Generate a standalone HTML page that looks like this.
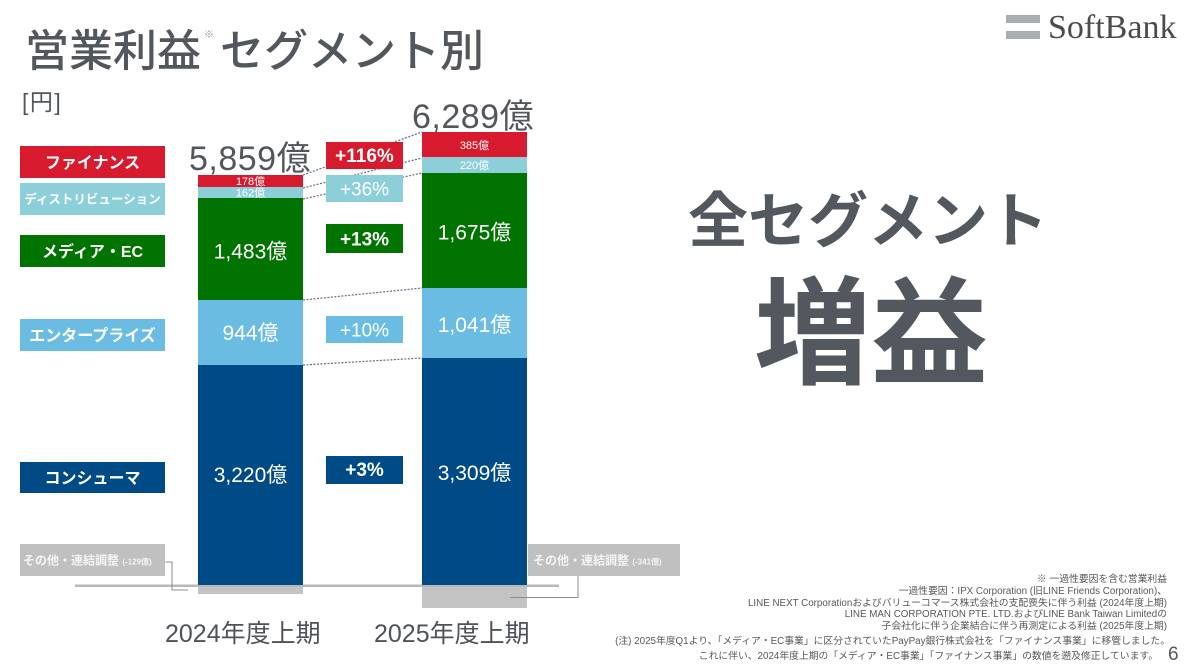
<!DOCTYPE html>
<html><head><meta charset="utf-8"><style>
html,body{margin:0;padding:0;background:#fff;}
svg{display:block;}
text{font-family:"Liberation Sans","Noto Sans CJK JP",sans-serif;}
</style></head><body>
<svg width="1200" height="669" viewBox="0 0 1200 669" xmlns="http://www.w3.org/2000/svg">
<rect width="1200" height="669" fill="#fff"/>
<!-- Title -->
<text x="25" y="66" font-size="44" font-weight="500" fill="#52575d">営業利益</text>
<text x="204" y="38" font-size="10" fill="#8a8e93">※</text>
<text x="220" y="66" font-size="44" font-weight="500" fill="#52575d">セグメント別</text>
<text x="22" y="110" font-size="23" letter-spacing="1.5" fill="#52575d">[円]</text>
<!-- Logo -->
<rect x="1006" y="15" width="34" height="8" fill="#a9adb1"/>
<rect x="1006" y="31" width="34" height="8" fill="#a9adb1"/>
<text x="1048" y="38" font-size="34" fill="#4b4b4b" style="font-family:'Liberation Serif',serif">SoftBank</text>

<!-- dotted connectors -->
<g stroke="#5d6f82" stroke-width="1.2" stroke-dasharray="2,1.5" fill="none">
<line x1="303" y1="175" x2="422" y2="132"/>
<line x1="303" y1="188" x2="422" y2="158"/>
<line x1="303" y1="199" x2="422" y2="173"/>
<line x1="303" y1="300" x2="422" y2="288"/>
<line x1="303" y1="365" x2="422" y2="358"/>
</g>

<!-- baseline -->
<rect x="75" y="584.5" width="484" height="2.5" fill="#b5b9be"/>

<!-- Bar 1 -->
<rect x="198" y="175" width="105" height="12" fill="#d71a2e"/>
<rect x="198" y="187" width="105" height="11" fill="#8ccfd8"/>
<rect x="198" y="198" width="105" height="102" fill="#007300"/>
<rect x="198" y="300" width="105" height="65" fill="#6bbce2"/>
<rect x="198" y="365" width="105" height="220" fill="#004b85"/>
<rect x="198" y="587" width="105" height="7" fill="#c3c3c3"/>

<!-- Bar 2 -->
<rect x="422" y="132" width="105" height="25" fill="#d71a2e"/>
<rect x="422" y="157" width="105" height="16" fill="#8ccfd8"/>
<rect x="422" y="173" width="105" height="115" fill="#007300"/>
<rect x="422" y="288" width="105" height="70" fill="#6bbce2"/>
<rect x="422" y="358" width="105" height="227" fill="#004b85"/>
<rect x="422" y="587" width="105" height="21" fill="#c3c3c3"/>

<!-- bar labels -->
<g fill="#fff" text-anchor="middle">
<text x="250.5" y="185" font-size="11">178億</text>
<text x="250.5" y="196.5" font-size="11">162億</text>
<text x="250.5" y="258.5" font-size="21">1,483億</text>
<text x="250.5" y="340" font-size="21">944億</text>
<text x="250.5" y="482" font-size="21">3,220億</text>
<text x="474.5" y="149" font-size="11">385億</text>
<text x="474.5" y="169" font-size="11">220億</text>
<text x="474.5" y="239.5" font-size="21">1,675億</text>
<text x="474.5" y="332" font-size="21">1,041億</text>
<text x="474.5" y="480" font-size="21">3,309億</text>
</g>

<!-- totals -->
<text x="189" y="170" font-size="34" letter-spacing="0.5" fill="#53575d">5,859億</text>
<text x="412" y="128" font-size="34" letter-spacing="0.5" fill="#53575d">6,289億</text>

<!-- percent boxes -->
<rect x="326" y="142" width="77" height="27" fill="#d71a2e"/>
<rect x="326" y="175" width="77" height="27" fill="#8ccfd8"/>
<rect x="326" y="224" width="77" height="29" fill="#007300"/>
<rect x="326" y="316" width="77" height="27" fill="#6bbce2"/>
<rect x="326" y="456" width="77" height="28" fill="#004b85"/>
<g fill="#fff" text-anchor="middle" font-size="19">
<text x="364.5" y="162" font-weight="bold">+116%</text>
<text x="364.5" y="195.5">+36%</text>
<text x="364.5" y="245.5" font-weight="bold">+13%</text>
<text x="364.5" y="336.5">+10%</text>
<text x="364.5" y="476" font-weight="bold">+3%</text>
</g>

<!-- legend -->
<rect x="20" y="146" width="145" height="32" fill="#d71a2e"/>
<rect x="20" y="183" width="145" height="32" fill="#8ccfd8"/>
<rect x="20" y="235" width="145" height="32" fill="#007300"/>
<rect x="20" y="319" width="145" height="32" fill="#6bbce2"/>
<rect x="20" y="462" width="145" height="31" fill="#004b85"/>
<rect x="20" y="544" width="145" height="32" fill="#c0c0c0"/>
<rect x="528" y="544" width="152" height="32" fill="#c0c0c0"/>
<g fill="#fff" text-anchor="middle" font-weight="bold">
<text x="92.5" y="168" font-size="16">ファイナンス</text>
<text x="92.5" y="203.5" font-size="12.5">ディストリビューション</text>
<text x="92.5" y="257" font-size="16">メディア・EC</text>
<text x="92.5" y="341" font-size="16">エンタープライズ</text>
<text x="92.5" y="483.5" font-size="16">コンシューマ</text>
</g>
<g fill="#f4f4f4" font-weight="bold">
<text x="23" y="564.5" font-size="12">その他・連結調整 <tspan font-size="8">(-129億)</tspan></text>
<text x="533" y="564.5" font-size="12">その他・連結調整 <tspan font-size="8">(-341億)</tspan></text>
</g>
<!-- brackets -->
<g stroke="#8a8d91" stroke-width="1" fill="none">
<polyline points="165.5,562 172,562 172,590 188,590"/>
<polyline points="578,576 578,597.5 510,597.5"/>
</g>

<!-- years -->
<text x="165" y="642" font-size="25" fill="#4e5359">2024年度上期</text>
<text x="374" y="642" font-size="25" fill="#4e5359">2025年度上期</text>

<!-- big message -->
<text x="868" y="242" font-size="60" font-weight="bold" fill="#53575e" text-anchor="middle">全セグメント</text>
<text x="871" y="375" font-size="117" font-weight="bold" fill="#53575e" text-anchor="middle">増益</text>

<!-- footnotes -->
<g fill="#55585c" font-size="9.8" text-anchor="end">
<text x="1167" y="582">※ 一過性要因を含む営業利益</text>
<text x="1167" y="594">一過性要因：IPX Corporation (旧LINE Friends Corporation)、</text>
<text x="1167" y="606">LINE NEXT Corporationおよびバリューコマース株式会社の支配喪失に伴う利益 (2024年度上期)</text>
<text x="1167" y="617">LINE MAN CORPORATION PTE. LTD.およびLINE Bank Taiwan Limitedの</text>
<text x="1167" y="629">子会社化に伴う企業結合に伴う再測定による利益 (2025年度上期)</text>
<text x="1170" y="644">(注) 2025年度Q1より、「メディア・EC事業」に区分されていたPayPay銀行株式会社を「ファイナンス事業」に移管しました。</text>
<text x="1158" y="659">これに伴い、2024年度上期の「メディア・EC事業」「ファイナンス事業」の数値を遡及修正しています。</text>
</g>
<text x="1168" y="660" font-size="19" fill="#55585c">6</text>
</svg>
</body></html>
